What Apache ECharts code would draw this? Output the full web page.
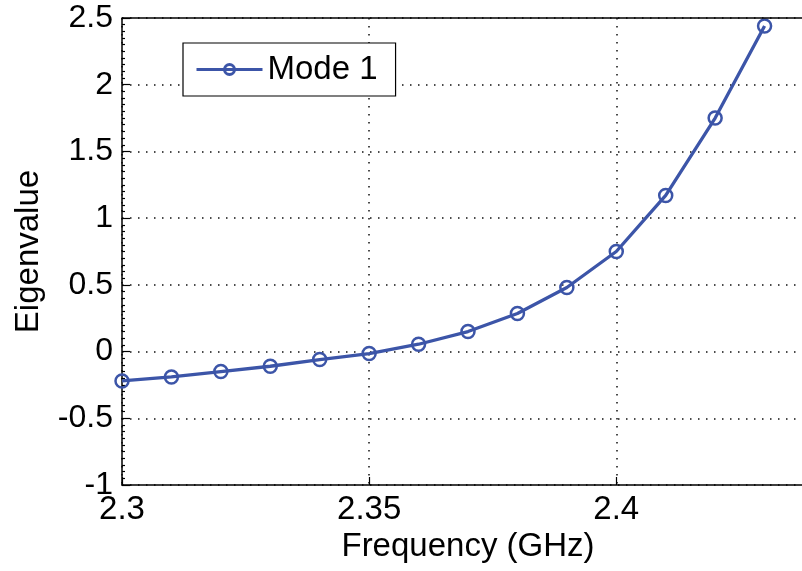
<!DOCTYPE html>
<html>
<head>
<meta charset="utf-8">
<script src="https://cdn.jsdelivr.net/npm/echarts@6/dist/echarts.min.js"></script>
<style>html,body{margin:0;padding:0;background:#fff;overflow:hidden;width:802px;height:571px}#c{width:814px;height:571px}</style>
</head>
<body>
<div id="c"></div>
<script>
const frequency = [2.30, 2.31, 2.32, 2.33, 2.34, 2.35, 2.36, 2.37, 2.38, 2.39, 2.40, 2.41, 2.42, 2.43];
const mode1 = [-0.22, -0.19, -0.15, -0.11, -0.06, -0.015, 0.055, 0.15, 0.285, 0.48, 0.75, 1.17, 1.75, 2.44];
const seriesName = 'Mode 1';
const xTitle = 'Frequency (GHz)';
const yTitle = 'Eigenvalue';

const font = 'Liberation Sans, Arial, sans-serif';
const blue = '#3C55A8';
const chart = echarts.init(document.getElementById('c'), null, {renderer: 'canvas'});
chart.setOption({
  animation: false,
  backgroundColor: '#fff',
  grid: {left: 122, right: 0, top: 18, bottom: 86, containLabel: false},
  legend: {
    left: 183, top: 43,
    padding: [10, 18, 10, 12],
    borderColor: '#000', borderWidth: 1.2, backgroundColor: '#fff',
    itemWidth: 66, itemHeight: 14, itemGap: 6,
    textStyle: {fontFamily: font, fontSize: 33, color: '#000'},
    data: [{name: seriesName, icon: 'path://M0,7L66,7M28,7a5,5 0 1,0 10,0a5,5 0 1,0 -10,0', itemStyle: {color: 'transparent', borderColor: blue, borderWidth: 3}}]
  },
  xAxis: {
    type: 'value', min: 2.3, max: 2.44, interval: 0.05,
    name: xTitle, nameLocation: 'middle', nameGap: 42,
    nameTextStyle: {fontFamily: font, fontSize: 33, color: '#000'},
    axisLine: {show: true, onZero: false, lineStyle: {color: '#000', width: 1.5}},
    axisTick: {show: true, inside: true, length: 8, lineStyle: {color: '#000', width: 1.2}},
    axisLabel: {fontFamily: font, fontSize: 33, color: '#000', margin: 8, showMaxLabel: false,
      formatter: v => String(Math.round(v * 100) / 100)},
    splitLine: {show: true, lineStyle: {color: '#111', width: 1.5, type: [1.5, 6.5]}}
  },
  yAxis: {
    type: 'value', min: -1, max: 2.5, interval: 0.5,
    name: yTitle, nameLocation: 'middle', nameGap: 77, nameRotate: 90,
    nameTextStyle: {fontFamily: font, fontSize: 33, color: '#000'},
    axisLine: {show: true, lineStyle: {color: '#000', width: 1.5}},
    axisTick: {show: true, inside: true, length: 8, lineStyle: {color: '#000', width: 1.2}},
    minorTick: {show: true, splitNumber: 10, length: 3, lineStyle: {color: '#000', width: 1.2}},
    axisLabel: {fontFamily: font, fontSize: 32, color: '#000', margin: 9,
      formatter: v => String(Math.round(v * 10) / 10)},
    splitLine: {show: true, lineStyle: {color: '#111', width: 1.5, type: [1.5, 6.5]}}
  },
  series: [{
    name: seriesName, type: 'line',
    data: frequency.map((f, i) => [f, mode1[i]]),
    symbol: 'circle', symbolSize: 13, showSymbol: true,
    lineStyle: {color: blue, width: 3.3},
    itemStyle: {color: 'transparent', borderColor: blue, borderWidth: 2.5},
    markLine: {
      silent: true, symbol: 'none', label: {show: false},
      lineStyle: {color: '#000', width: 1.5, type: 'solid'},
      data: [{yAxis: 2.5}]
    }
  }]
});
</script>
</body>
</html>
